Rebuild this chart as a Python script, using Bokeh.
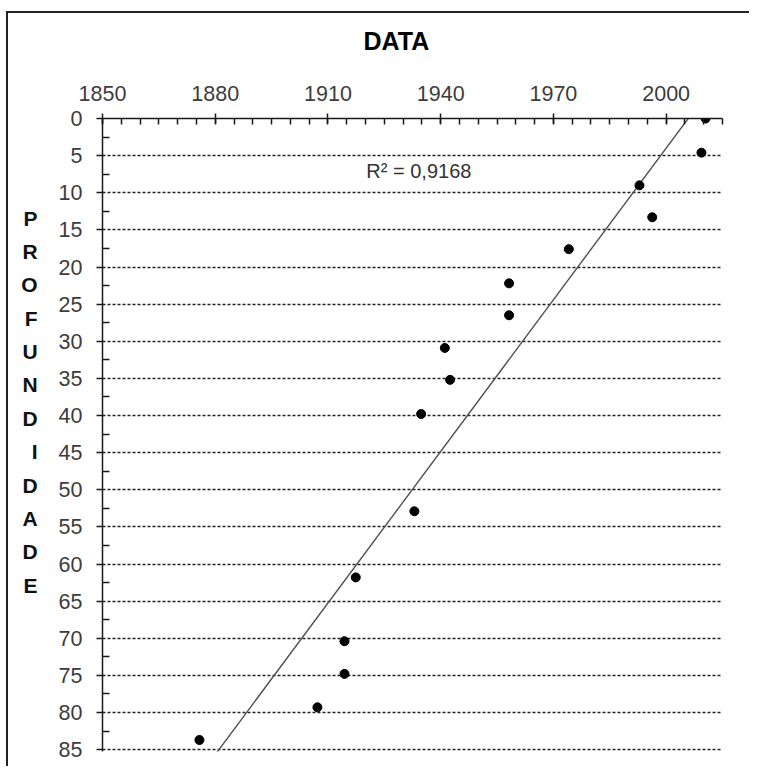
import numpy as np
from bokeh.plotting import figure
from bokeh.models import Range1d, FixedTicker, Label
from bokeh.embed import file_html
from bokeh.resources import INLINE

# ---- data ----
anos = [2010.5, 2009.4, 1992.9, 1996.3, 1974.1, 1958.2, 1958.2, 1941.1,
        1942.5, 1934.8, 1933.0, 1917.4, 1914.4, 1914.4, 1907.2, 1875.8]
profundidade = [0.0, 4.6, 9.0, 13.3, 17.6, 22.2, 26.5, 30.9,
                35.2, 39.8, 52.9, 61.8, 70.4, 74.8, 79.3, 83.7]
x_ticks = [1850, 1880, 1910, 1940, 1970, 2000]
y_ticks = [0, 5, 10, 15, 20, 25, 30, 35, 40, 45, 50, 55, 60, 65, 70, 75, 80, 85]
r2_text = "R² = 0,9168"
title_text = "DATA"
y_title = "PROFUNDIDADE"

FONT = "Liberation Sans"

p = figure(width=743, height=755, output_backend="svg", toolbar_location=None,
           x_axis_location="above",
           x_range=Range1d(1850, 2015), y_range=Range1d(85.25, 0),
           min_border_left=94, min_border_right=29, min_border_top=105,
           min_border_bottom=17,
           styles={"border-left": "2px solid #222222",
                   "border-top": "2px solid #222222",
                   "margin-left": "6px",
                   "margin-top": "11px"})
p.outline_line_color = None
p.background_fill_color = "white"
p.border_fill_color = "white"

# title (the trailing empty line lifts the word within its panel)
p.title.text = title_text + "\n"
p.title.align = "left"
p.title.offset = 261
p.title.standoff = 0
p.title.text_font = FONT
p.title.text_font_size = "25px"
p.title.text_font_style = "bold"
p.title.text_line_height = 1.0
p.title.text_color = "black"

# axes
xa = p.xaxis[0]
xa.ticker = FixedTicker(ticks=x_ticks, minor_ticks=list(range(1850, 2016, 5)))
xa.axis_line_color = "#1a1a1a"
xa.axis_line_width = 1.5
xa.major_tick_line_color = "#1a1a1a"
xa.major_tick_line_width = 1.5
xa.major_tick_in = 5
xa.major_tick_out = 5
xa.minor_tick_line_color = "#1a1a1a"
xa.minor_tick_line_width = 1.5
xa.minor_tick_in = 6
xa.minor_tick_out = 0
xa.major_label_text_font = FONT
xa.major_label_text_font_size = "21.5px"
xa.major_label_text_color = "#3c3c3c"
xa.major_label_standoff = 13

ya = p.yaxis[0]
ya.ticker = FixedTicker(ticks=y_ticks, minor_ticks=[v + 2.5 for v in y_ticks[:-1]])
ya.axis_line_color = "#1a1a1a"
ya.axis_line_width = 1.5
ya.major_tick_line_color = "#1a1a1a"
ya.major_tick_line_width = 1.5
ya.major_tick_in = 0
ya.major_tick_out = 6
ya.minor_tick_line_color = "#1a1a1a"
ya.minor_tick_line_width = 1.5
ya.minor_tick_in = 7
ya.minor_tick_out = 0
ya.major_label_text_font = FONT
ya.major_label_text_font_size = "21.5px"
ya.major_label_text_color = "#3c3c3c"
ya.major_label_standoff = 14
ya.axis_label = "\n".join(y_title) + "\n\n"
ya.axis_label_orientation = "horizontal"
ya.axis_label_standoff = 18
ya.axis_label_text_font = FONT
ya.axis_label_text_font_size = "21px"
ya.axis_label_text_font_style = "bold"
ya.axis_label_text_color = "#111111"
ya.axis_label_text_line_height = 1.45

# grid
p.xgrid.visible = False
p.ygrid.ticker = FixedTicker(ticks=y_ticks[1:])
p.ygrid.grid_line_color = "#222222"
p.ygrid.grid_line_width = 1.3
p.ygrid.grid_line_dash = "3 2"

# trend line (least squares of depth on year)
slope, intercept = np.polyfit(anos, profundidade, 1)
tx = [min(anos), max(anos)]
ty = [slope * v + intercept for v in tx]
p.line(tx, ty, line_color="#505050", line_width=1.4)

# points
p.scatter(anos, profundidade, size=9, color="black")

# R² label
p.add_layout(Label(x=1934.2, y=7.1, text=r2_text, text_align="center",
                   text_baseline="middle", text_font=FONT,
                   text_font_size="20px", text_color="#333333"))

open("out.html", "w").write(file_html(p, INLINE))
